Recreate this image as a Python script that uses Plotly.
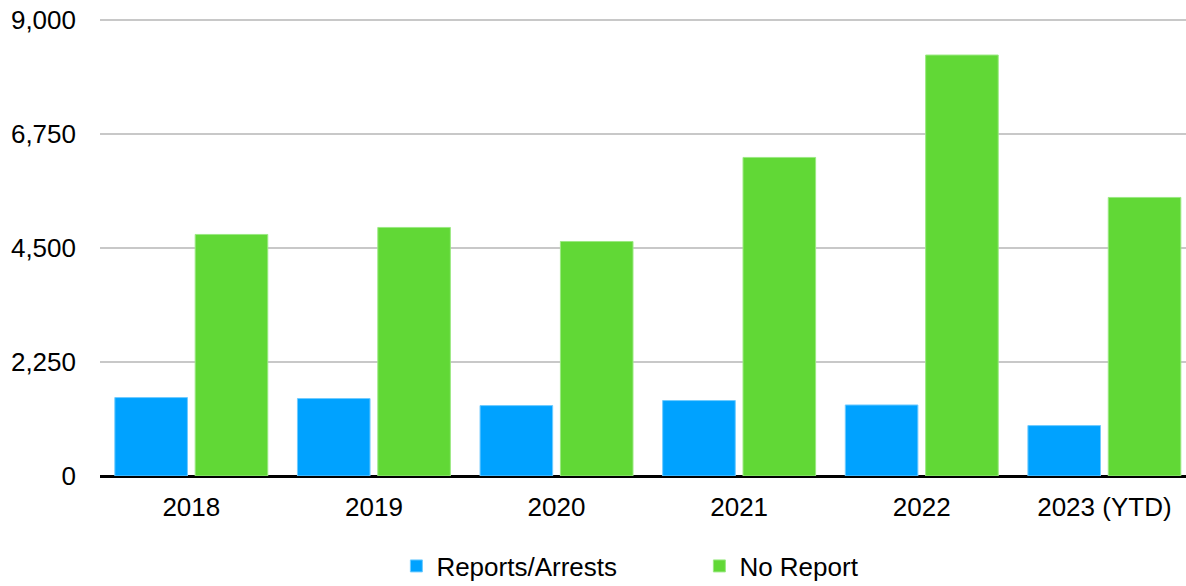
import plotly.graph_objects as go

categories = ["2018", "2019", "2020", "2021", "2022", "2023 (YTD)"]
reports_arrests = [1548, 1529, 1390, 1489, 1402, 995]
no_report = [4768, 4906, 4629, 6288, 8309, 5498]
y_ticks = [0, 2250, 4500, 6750, 9000]

FONT = "Arial, 'Liberation Sans', sans-serif"

fig = go.Figure()
fig.add_trace(go.Bar(
    name="Reports/Arrests", x=categories, y=reports_arrests,
    marker=dict(color="#00A2FF", line=dict(color="#6FCBFF", width=1)),
))
fig.add_trace(go.Bar(
    name="No Report", x=categories, y=no_report,
    marker=dict(color="#61D836", line=dict(color="#9BE982", width=1)),
))

fig.update_layout(
    width=1186, height=586,
    margin=dict(l=100, r=0, t=18, b=110),
    paper_bgcolor="white", plot_bgcolor="white",
    barmode="group", bargap=0.12, bargroupgap=0.0965,
    font=dict(family=FONT, size=26, color="black"),
    showlegend=True,
    legend=dict(
        orientation="h", xref="container", yref="container",
        x=0.5897, xanchor="center", y=0.0341, yanchor="middle",
        font=dict(family=FONT, size=26, color="black"),
        itemwidth=30, traceorder="normal", entrywidth=258,
    ),
)
fig.update_xaxes(
    type="category", range=[-0.5, 5.447], automargin=False,
    showgrid=False, showline=False, zeroline=False, ticks="",
    tickfont=dict(family=FONT, size=26, color="black"),
    ticklabelstandoff=13,
)
fig.update_yaxes(
    range=[0, 9040], tickvals=y_ticks, tickformat=",", automargin=False,
    showgrid=True, gridcolor="#C8C8C8", gridwidth=1.5,
    zeroline=True, zerolinecolor="black", zerolinewidth=2.5,
    showline=False, ticks="", ticklabeloverflow="allow",
    tickfont=dict(family=FONT, size=26, color="black"),
    ticklabelstandoff=23,
)

fig.write_html(
    "out.html",
    config={"displayModeBar": False},
    post_script="document.body.style.margin='0';",
)
